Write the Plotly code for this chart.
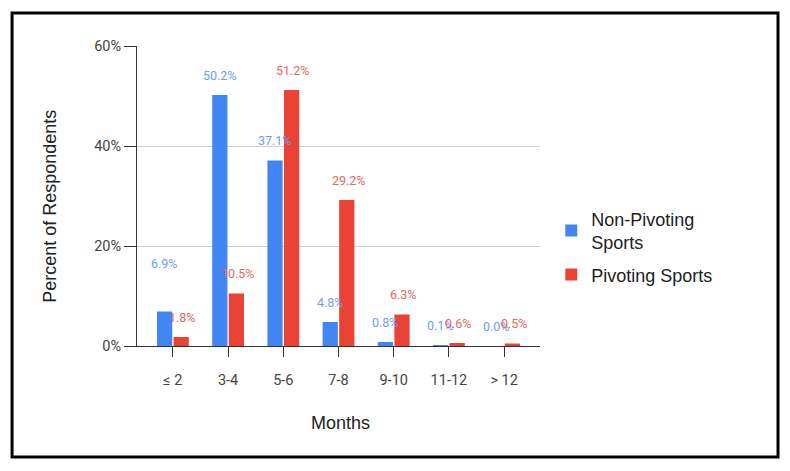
import plotly.graph_objects as go

categories = ["≤ 2", "3-4", "5-6", "7-8", "9-10", "11-12", "> 12"]
non_pivoting = [6.9, 50.2, 37.1, 4.8, 0.8, 0.1, 0.0]
pivoting = [1.8, 10.5, 51.2, 29.2, 6.3, 0.6, 0.5]
y_ticks = [0, 20, 40, 60]
y_tick_labels = ["0%", "20%", "40%", "60%"]

BLUE = "#4285F4"
RED = "#EA4335"
BLUE_LBL = "#6d9ef5"
RED_LBL = "#e8675b"
TITLE_FONT = "Liberation Sans, Arial"

fig = go.Figure()
fig.add_trace(go.Bar(x=categories, y=non_pivoting, name="Non-Pivoting<br>Sports",
                     legendgroup="np",
                     marker=dict(color=BLUE, line=dict(width=0))))
fig.add_trace(go.Bar(x=categories, y=pivoting, name="Pivoting Sports",
                     legendgroup="p",
                     marker=dict(color=RED, line=dict(width=0))))

annotations = []
for i, c in enumerate(categories):
    extra = 28 if i == 0 else 0
    annotations.append(dict(x=c, y=non_pivoting[i], xref="x", yref="y",
                            text=f"{non_pivoting[i]:.1f}%", showarrow=False,
                            xshift=-8, yshift=20 + extra,
                            font=dict(size=12.5, color=BLUE_LBL, family="Roboto")))
    annotations.append(dict(x=c, y=pivoting[i], xref="x", yref="y",
                            text=f"{pivoting[i]:.1f}%", showarrow=False,
                            xshift=10, yshift=20,
                            font=dict(size=12.5, color=RED_LBL, family="Roboto")))

annotations.append(dict(x=-0.216, y=0.467, xref="paper", yref="paper",
                        xanchor="center", yanchor="middle",
                        text="Percent of Respondents", textangle=-90, showarrow=False,
                        font=dict(size=18, color="#222", family=TITLE_FONT)))
annotations.append(dict(x=0.504, y=-0.257, xref="paper", yref="paper",
                        xanchor="center", yanchor="middle",
                        text="Months", showarrow=False,
                        font=dict(size=18, color="#222", family=TITLE_FONT)))

fig.update_layout(
    width=790, height=471,
    margin=dict(l=137, r=250, t=46, b=125),
    paper_bgcolor="white", plot_bgcolor="white",
    barmode="group", bargap=0.4, bargroupgap=0.08,
    font=dict(family="Roboto, Arial", color="#444"),
    showlegend=True,
    legend=dict(x=1.028, y=0.33, xanchor="left", yanchor="middle",
                font=dict(size=18, color="#222", family=TITLE_FONT),
                itemsizing="constant", tracegroupgap=6, itemwidth=30),
    annotations=annotations,
    shapes=[dict(type="rect", xref="paper", yref="paper",
                 x0=-0.31, x1=1.5906, y0=-0.37, y1=1.11,
                 line=dict(color="black", width=3))],
)
fig.update_xaxes(type="category", range=[-0.65, 6.65], showline=True, linecolor="#333", linewidth=1,
                 ticks="outside", ticklen=10, tickcolor="#333",
                 ticklabelstandoff=11,
                 tickfont=dict(size=14.5, color="#444"), showgrid=False)
fig.update_yaxes(range=[0, 60], tickvals=y_ticks, ticktext=y_tick_labels,
                 showline=True, linecolor="#333", linewidth=1,
                 ticks="outside", ticklen=12, tickcolor="#333",
                 tickfont=dict(size=14.5, color="#444"),
                 showgrid=True, gridcolor="#d0d0d0", zeroline=False)

fig.write_html("out.html", config={"displayModeBar": False},
               post_script="document.body.style.margin='0';document.body.style.padding='0';")
